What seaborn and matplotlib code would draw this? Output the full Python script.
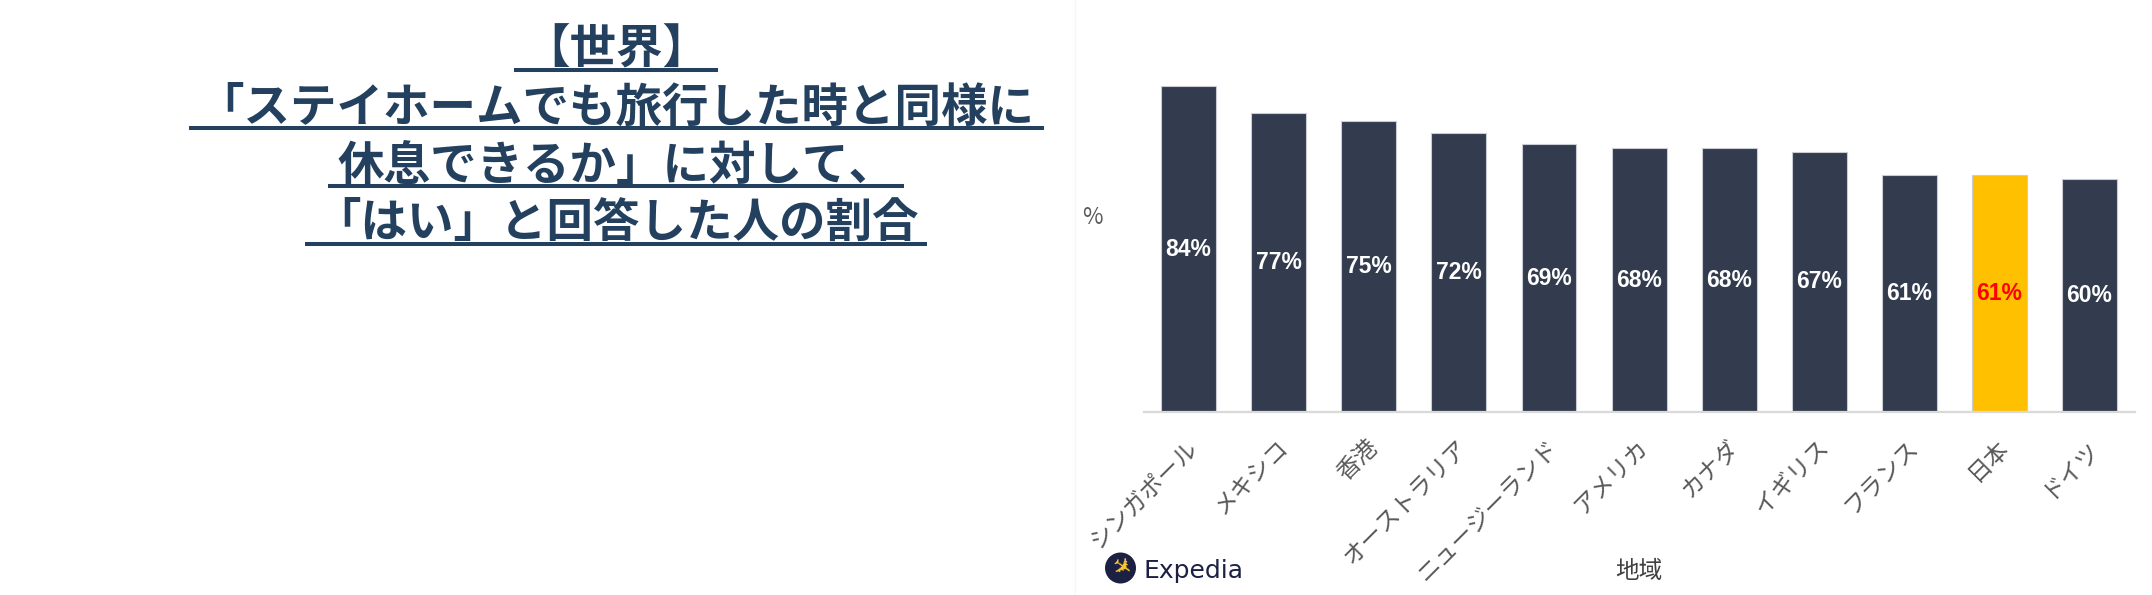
import matplotlib
matplotlib.use("Agg")
import matplotlib.pyplot as plt
import matplotlib.transforms as mtransforms
from matplotlib.patches import Circle
from matplotlib.lines import Line2D
import seaborn as sns

# data
regions = ["シンガポール", "メキシコ", "香港", "オーストラリア", "ニュージーランド",
           "アメリカ", "カナダ", "イギリス", "フランス", "日本", "ドイツ"]
yes_share = [84, 77, 75, 72, 69, 68, 68, 67, 61, 61, 60]
highlight = "日本"

title_lines = ["【世界】",
               "「ステイホームでも旅行した時と同様に",
               "休息できるか」に対して、",
               "「はい」と回答した人の割合"]

DARK = "#323c4e"
GOLD = "#ffc000"
NAVY = "#24405f"
GREY = "#595959"


def draw_chart(fig):
    ax = fig.add_axes([0.5314, 0.3076, 0.4605, 0.5869])
    palette = {r: (GOLD if r == highlight else DARK) for r in regions}
    sns.barplot(x=regions, y=yes_share, hue=regions, palette=palette, legend=False,
                order=regions, hue_order=regions, width=0.61, saturation=1,
                edgecolor="#c9ccd2", linewidth=0.8, ax=ax)
    ax.set_xlim(-0.5, len(regions) - 0.5)
    ax.set_ylim(0, 90)

    for cont, r, v in zip(ax.containers, regions, yes_share):
        ax.bar_label(cont, labels=[f"{v}%"], label_type="center",
                     color=("#ff0000" if r == highlight else "white"),
                     fontsize=16.5, fontweight="bold", family=["Liberation Sans", "DejaVu Sans"])

    for s in ["top", "right", "left"]:
        ax.spines[s].set_visible(False)
    ax.spines["bottom"].set_color("#d9d9d9")
    ax.spines["bottom"].set_linewidth(1.6)
    ax.set_yticks([])
    ax.tick_params(axis="x", length=0, pad=23, labelsize=17, labelcolor=GREY)

    # rotated labels end at the bar centre
    shift = mtransforms.ScaledTranslation(0.06, 0, fig.dpi_scale_trans)
    for lab in ax.get_xticklabels():
        lab.set_rotation(45)
        lab.set_ha("right")
        lab.set_va("center")
        lab.set_rotation_mode("anchor")
        lab.set_transform(lab.get_transform() + shift)

    ax.set_xlabel("地域", fontsize=17, color="#404040")
    ax.xaxis.set_label_coords(0.5, -0.458)
    ax.xaxis.label.set_va("center")
    ax.set_ylabel("%", rotation=0, fontsize=16, color=GREY)
    ax.yaxis.set_label_coords(-0.052, 0.556)
    ax.yaxis.label.set_va("center")
    ax.yaxis.label.set_ha("center")
    return ax


def draw_title(fig):
    H = 595.0
    baselines = [64, 122, 180, 237]
    unders = [70, 128, 186, 244]
    texts = []
    for line, b in zip(title_lines, baselines):
        t = fig.text(616 / 2152, 1 - b / H, line, ha="center", va="baseline",
                     fontsize=33.5, fontweight="bold", color=NAVY)
        texts.append(t)
    fig.canvas.draw()
    r = fig.canvas.get_renderer()
    # underline each title line
    for t, u in zip(texts, unders):
        bb = t.get_window_extent(r)
        x0 = (bb.x0 - 9) / fig.bbox.width
        x1 = (bb.x1 + 9) / fig.bbox.width
        fig.add_artist(Line2D([x0, x1], [1 - u / H, 1 - u / H], transform=fig.transFigure,
                              color=NAVY, linewidth=2.9, solid_capstyle="butt"))


def draw_logo(fig):
    cx, cy, rad = 11.205, (595 - 568) / 100, 0.155
    fig.add_artist(Circle((cx, cy), rad, transform=fig.dpi_scale_trans,
                          facecolor="#1c2143", edgecolor="none"))
    fig.text(cx / 21.52, cy / 5.95, "✈", ha="center", va="center", fontsize=17,
             color="#ffc72c", rotation=-35, family="DejaVu Sans")
    fig.text(1143 / 2152, 1 - 578 / 595, "Expedia", ha="left", va="baseline",
             fontsize=18, color="#1c2143", family="DejaVu Sans")


def main():
    sns.set_style("white")
    plt.rcParams["font.family"] = ["Noto Sans CJK JP", "DejaVu Sans"]
    fig = plt.figure(figsize=(21.52, 5.95), dpi=100)
    fig.add_artist(Line2D([1075 / 2152] * 2, [0, 1], transform=fig.transFigure,
                          color="#f6f6f6", linewidth=1))
    draw_chart(fig)
    draw_title(fig)
    draw_logo(fig)
    fig.savefig("out.png", dpi=100)


if __name__ == "__main__":
    main()
